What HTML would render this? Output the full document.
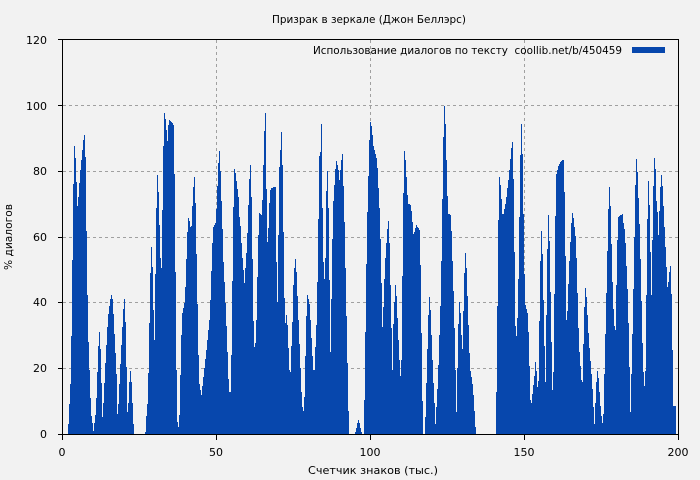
<!DOCTYPE html>
<html>
<head>
<meta charset="utf-8">
<style>
html,body{margin:0;padding:0;background:#f2f2f2;}
svg{display:block;}
text{font-family:"DejaVu Sans","Liberation Sans",sans-serif;fill:#000;}
</style>
</head>
<body>
<svg width="700" height="480" viewBox="0 0 700 480" xmlns="http://www.w3.org/2000/svg">
<rect x="0" y="0" width="700" height="480" fill="#f2f2f2"/>
<text x="369" y="23" font-size="11" text-anchor="middle" textLength="194" lengthAdjust="spacingAndGlyphs">Призрак в зеркале (Джон Беллэрс)</text>
<g stroke="#a0a0a0" stroke-width="1" stroke-dasharray="3,3" shape-rendering="crispEdges">
<line x1="63" y1="368.5" x2="678" y2="368.5"/>
<line x1="63" y1="302.5" x2="678" y2="302.5"/>
<line x1="63" y1="237.5" x2="678" y2="237.5"/>
<line x1="63" y1="171.5" x2="678" y2="171.5"/>
<line x1="63" y1="105.5" x2="678" y2="105.5"/>
<line x1="216.5" y1="40" x2="216.5" y2="434"/>
<line x1="370.5" y1="40" x2="370.5" y2="434"/>
<line x1="524.5" y1="40" x2="524.5" y2="434"/>
</g>
<path fill="#0747ad" shape-rendering="crispEdges" d="M68 434V424H69V404H70V384H71V336H72V260H73V184H74V146H75V158H76V182H77V206H78V197H79V183H80V170H81V160H82V150H83V140H84V135H85V157H86V231H87V295H88V342H89V370H90V398H91V416H92V423H93V431H94V423H95V415H96V398H97V372H98V346H99V332H100V349H101V383H102V417H103V403H104V383H105V363H106V345H107V327H108V314H109V306H110V299H111V295H112V299H113V314H114V334H115V353H116V374H117V414H118V404H119V384H120V364H121V345H122V327H123V309H124V299H125V322H126V367H127V412H128V403H129V382H130V371H131V382H132V403H133V424H134V434H145V432H146V416H147V404H148V373H149V323H150V273H151V247H152V267H153V310H154V340H155V274H156V208H157V175H158V192H159V225H160V258H161V268H162V210H163V146H164V113H165V119H166V130H167V141H168V125H169V120H170V121H171V122H172V123H173V125H174V174H175V272H176V370H177V422H178V427H179V415H180V375H181V335H182V313H183V308H184V303H185V287H186V259H187V232H188V218H189V221H190V227H191V226H192V206H193V187H194V177H195V203H196V254H197V304H198V355H199V384H200V390H201V395H202V386H203V377H204V368H205V359H206V350H207V340H208V330H209V320H210V300H211V271H212V243H213V227H214V225H215V223H216V209H217V186H218V163H219V151H220V171H221V201H222V229H223V262H224V282H225V303H226V326H227V352H228V379H229V392H231V355H232V281H233V207H234V169H235V173H236V181H237V189H238V197H239V217H240V226H241V243H242V258H243V270H244V283H245V268H246V253H247V233H248V205H249V179H250V165H251V197H252V259H253V321H254V347H255V343H256V320H257V277H258V235H259V213H260V214H261V215H262V200H263V165H264V131H265V113H266V189H267V242H268V228H269V203H270V190H271V188H273V187H276V262H277V302H278V235H279V167H280V150H281V132H282V165H283V232H284V298H285V323H286V315H287V325H288V348H289V370H290V372H291V346H292V322H293V285H294V268H295V259H296V272H297V296H298V320H299V344H300V368H301V392H302V407H303V411H304V397H305V356H306V316H307V295H308V299H309V304H310V320H311V338H312V356H313V370H315V347H316V325H317V282H318V219H319V156H320V152H321V124H322V208H323V262H324V279H325V258H326V191H327V171H328V208H329V280H330V352H331V299H332V239H333V201H334V185H335V169H336V161H337V165H338V170H339V180H340V170H341V160H342V154H343V186H344V222H345V268H346V316H347V363H348V411H349V434H355V432H356V428H357V423H358V420H359V423H360V428H361V432H362V434H364V400H365V332H366V264H367V212H368V176H369V140H370V122H371V126H372V135H373V146H374V150H375V154H376V158H377V168H378V188H379V208H380V239H381V283H382V327H383V307H384V279H385V258H386V243H387V229H388V221H389V243H390V285H391V328H392V370H393V324H394V302H395V285H396V296H397V318H398V340H399V360H400V376H401V360H402V276H403V193H404V151H405V160H406V177H407V195H408V204H410V205H411V211H412V222H413V234H414V232H415V228H416V225H417V227H418V228H419V230H420V265H421V333H422V401H423V434H425V417H426V383H427V349H428V315H429V297H430V310H431V335H432V360H433V383H434V403H435V424H436V407H437V389H438V365H439V335H440V306H441V261H442V199H443V137H444V106H445V124H446V160H447V196H448V214H450V215H451V231H452V261H453V291H454V328H455V370H456V412H457V368H458V324H459V302H460V313H461V335H462V349H463V311H464V273H465V253H466V268H467V296H468V325H469V353H470V371H471V377H472V384H473V395H474V411H475V427H476V434H496V392H497V306H498V220H499V177H500V185H501V199H502V214H504V209H505V204H506V197H507V188H508V180H509V170H510V159H511V148H512V142H513V179H514V252H515V326H516V336H517V318H518V279H519V217H520V155H521V124H522V154H523V214H524V274H525V305H526V309H527V313H528V332H529V366H530V400H531V403H532V394H533V385H534V376H535V362H536V371H537V387H538V381H539V321H540V261H541V231H542V254H543V300H544V346H545V382H546V315H547V249H548V215H549V241H550V292H551V342H552V390H553V372H554V294H555V216H556V174H557V170H558V166H559V164H560V162H561V161H562V160H564V192H565V256H566V320H567V311H568V284H569V261H570V242H571V223H572V213H573V218H574V227H575V236H576V258H577V293H578V328H579V352H580V366H581V380H582V382H583V344H584V307H585V288H586V297H587V315H588V333H589V348H590V361H591V374H592V389H593V407H594V424H595V403H596V382H597V371H598V378H599V392H600V406H601V416H602V423H603V414H604V374H605V334H606V293H607V251H608V209H609V187H610V206H611V244H612V282H613V309H614V326H615V330H616V285H617V240H618V217H619V216H620V215H622V214H623V223H624V229H625V243H626V266H627V289H628V323H629V367H630V412H631V374H632V334H633V289H634V237H635V185H636V159H637V172H638V198H639V224H640V259H641V301H642V343H643V372H644V386H645V371H646V295H647V219H648V181H649V205H650V252H651V295H652V240H653V186H654V158H655V169H656V201H657V212H658V235H659V211H660V187H661V175H662V186H663V206H664V227H665V247H666V267H667V287H668V282H669V272H670V266H671V294H672V350H673V406H676V434Z"/>
<g stroke="#000" stroke-width="1" fill="none" shape-rendering="crispEdges">
<rect x="62.5" y="39.5" width="616" height="395"/>
<line x1="58" y1="39.5" x2="62" y2="39.5"/>
<line x1="58" y1="105.5" x2="62" y2="105.5"/>
<line x1="58" y1="171.5" x2="62" y2="171.5"/>
<line x1="58" y1="237.5" x2="62" y2="237.5"/>
<line x1="58" y1="302.5" x2="62" y2="302.5"/>
<line x1="58" y1="368.5" x2="62" y2="368.5"/>
<line x1="58" y1="434.5" x2="62" y2="434.5"/>
<line x1="62.5" y1="435" x2="62.5" y2="440"/>
<line x1="216.5" y1="435" x2="216.5" y2="440"/>
<line x1="370.5" y1="435" x2="370.5" y2="440"/>
<line x1="524.5" y1="435" x2="524.5" y2="440"/>
<line x1="678.5" y1="435" x2="678.5" y2="440"/>
</g>
<g font-size="11" text-anchor="end">
<text x="47" y="44">120</text>
<text x="47" y="110">100</text>
<text x="47" y="175">80</text>
<text x="47" y="241">60</text>
<text x="47" y="306">40</text>
<text x="47" y="372">20</text>
<text x="47" y="438">0</text>
</g>
<g font-size="11" text-anchor="middle">
<text x="62" y="456">0</text>
<text x="216" y="456">50</text>
<text x="370" y="456">100</text>
<text x="524" y="456">150</text>
<text x="678" y="456">200</text>
</g>
<text x="373" y="474" font-size="11" text-anchor="middle" textLength="130" lengthAdjust="spacingAndGlyphs">Счетчик знаков (тыс.)</text>
<text transform="translate(12,237) rotate(-90)" font-size="11" text-anchor="middle" textLength="66" lengthAdjust="spacingAndGlyphs">% диалогов</text>
<text x="313" y="54" font-size="11" textLength="309" lengthAdjust="spacingAndGlyphs">Использование диалогов по тексту&#160; coollib.net/b/450459</text>
<rect x="632" y="47" width="33" height="6" fill="#0747ad"/>
</svg>
</body>
</html>
